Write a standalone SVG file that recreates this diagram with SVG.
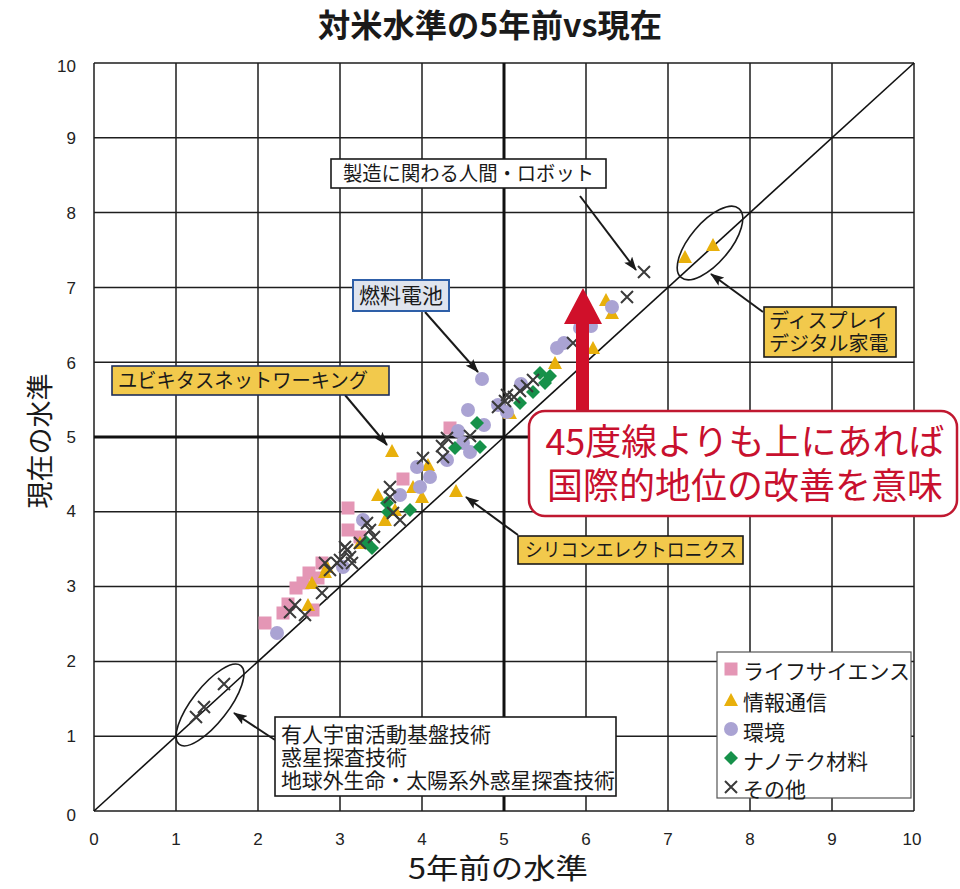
<svg xmlns="http://www.w3.org/2000/svg" xmlns:xlink="http://www.w3.org/1999/xlink" width="960" height="889" viewBox="0 0 960 889">
<style>
.grid{stroke:#1e1e1e;stroke-width:1.5;fill:none}
.thick{stroke:#111;stroke-width:3;fill:none}
.tick{font-family:"Liberation Sans",Arial,sans-serif;font-size:17px;fill:#222}
.jp{font-family:"Noto Sans CJK JP","Noto Sans CJK SC",sans-serif;fill:#1a1a1a}
.box{stroke:#1a1a1a;stroke-width:1.6}
.conn{stroke:#1a1a1a;stroke-width:2;fill:none;marker-end:url(#ah)}
.ell{stroke:#1a1a1a;stroke-width:1.6;fill:none}
</style>
<defs>
<marker id="ah" viewBox="0 0 14 10" refX="13" refY="5" markerWidth="14" markerHeight="10" markerUnits="userSpaceOnUse" orient="auto">
<path d="M0,0 L14,5 L0,10 L3,5 Z" fill="#1a1a1a"/>
</marker>
<rect id="sq" x="-6.5" y="-6.5" width="13" height="13" fill="#e496b5"/>
<path id="tri" d="M0,-7 L7,6 L-7,6 Z" fill="#e8b00c"/>
<circle id="ci" r="7" fill="#aaa3d3"/>
<path id="di" d="M0,-7 L7,0 L0,7 L-7,0 Z" fill="#16914a"/>
<path id="xx" d="M-6,-6 L6,6 M6,-6 L-6,6" stroke="#3a3a3a" stroke-width="2" fill="none"/>
</defs>
<rect width="960" height="889" fill="#ffffff"/>

<text x="490" y="37" class="jp" font-size="32" font-weight="bold" text-anchor="middle" textLength="344" lengthAdjust="spacingAndGlyphs">対米水準の5年前vs現在</text>

<g id="grid">
<path class="grid" d="M94,63 V811 M176,63 V811 M258,63 V811 M340,63 V811 M422,63 V811 M586,63 V811 M668,63 V811 M750,63 V811 M832,63 V811 M914,63 V811"/>
<path class="grid" d="M94,811 H914 M94,736.2 H914 M94,661.4 H914 M94,586.6 H914 M94,511.8 H914 M94,362.2 H914 M94,287.4 H914 M94,212.6 H914 M94,137.8 H914 M94,63 H914"/>
<path class="thick" d="M504,63 V811 M94,437 H914"/>
<line x1="94" y1="811" x2="914" y2="63" stroke="#111" stroke-width="1.6"/>
</g>

<g id="yticks" class="tick" text-anchor="end">
<text x="76" y="72">10</text><text x="76" y="144">9</text><text x="76" y="219">8</text><text x="76" y="294">7</text><text x="76" y="369">6</text><text x="76" y="443">5</text><text x="76" y="517">4</text><text x="76" y="592">3</text><text x="76" y="667">2</text><text x="76" y="742">1</text><text x="76" y="821">0</text>
</g>
<g id="xticks" class="tick" text-anchor="middle">
<text x="94" y="845">0</text><text x="176" y="845">1</text><text x="258" y="845">2</text><text x="340" y="845">3</text><text x="422" y="845">4</text><text x="504" y="845">5</text><text x="586" y="845">6</text><text x="668" y="845">7</text><text x="750" y="845">8</text><text x="832" y="845">9</text><text x="912" y="845">10</text>
</g>
<text class="jp" x="498" y="879" font-size="28" text-anchor="middle" textLength="180" lengthAdjust="spacingAndGlyphs">5年前の水準</text>
<text class="jp" font-size="27" text-anchor="middle" transform="translate(50,441) rotate(-90)">現在の水準</text>

<g id="scatter">
<g id="pts-life">
<use xlink:href="#sq" x="265" y="623"/><use xlink:href="#sq" x="283" y="613"/><use xlink:href="#sq" x="288" y="604"/><use xlink:href="#sq" x="296" y="588"/><use xlink:href="#sq" x="303" y="583"/><use xlink:href="#sq" x="309" y="573"/><use xlink:href="#sq" x="313" y="610"/><use xlink:href="#sq" x="322" y="563"/><use xlink:href="#sq" x="348" y="508"/><use xlink:href="#sq" x="348" y="530"/><use xlink:href="#sq" x="360" y="537"/><use xlink:href="#sq" x="403" y="479"/><use xlink:href="#sq" x="450" y="428"/><use xlink:href="#sq" x="318" y="578"/>
</g>
<g id="pts-info">
<use xlink:href="#tri" x="392" y="451"/><use xlink:href="#tri" x="378" y="495"/><use xlink:href="#tri" x="413" y="487"/><use xlink:href="#tri" x="422" y="497"/><use xlink:href="#tri" x="428" y="465"/><use xlink:href="#tri" x="456" y="491"/><use xlink:href="#tri" x="395" y="510"/><use xlink:href="#tri" x="327" y="567"/><use xlink:href="#tri" x="312" y="583"/><use xlink:href="#tri" x="308" y="605"/><use xlink:href="#tri" x="385" y="520"/><use xlink:href="#tri" x="360" y="543"/><use xlink:href="#tri" x="555" y="363"/><use xlink:href="#tri" x="510" y="413"/><use xlink:href="#tri" x="593" y="348"/><use xlink:href="#tri" x="606" y="300"/><use xlink:href="#tri" x="612" y="313"/><use xlink:href="#tri" x="685" y="257"/><use xlink:href="#tri" x="713" y="245"/><use xlink:href="#tri" x="325" y="572"/>
</g>
<g id="pts-env">
<use xlink:href="#ci" x="482" y="379"/><use xlink:href="#ci" x="468" y="410"/><use xlink:href="#ci" x="498" y="405"/><use xlink:href="#ci" x="484" y="425"/><use xlink:href="#ci" x="458" y="431"/><use xlink:href="#ci" x="463" y="443"/><use xlink:href="#ci" x="470" y="452"/><use xlink:href="#ci" x="447" y="460"/><use xlink:href="#ci" x="430" y="477"/><use xlink:href="#ci" x="417" y="467"/><use xlink:href="#ci" x="420" y="487"/><use xlink:href="#ci" x="400" y="495"/><use xlink:href="#ci" x="363" y="520"/><use xlink:href="#ci" x="277" y="633"/><use xlink:href="#ci" x="557" y="348"/><use xlink:href="#ci" x="564" y="343"/><use xlink:href="#ci" x="580" y="328"/><use xlink:href="#ci" x="591" y="326"/><use xlink:href="#ci" x="612" y="307"/><use xlink:href="#ci" x="507" y="412"/><use xlink:href="#ci" x="521" y="384"/><use xlink:href="#ci" x="343" y="567"/>
</g>
<g id="pts-nano">
<use xlink:href="#di" x="540" y="373"/><use xlink:href="#di" x="550" y="376"/><use xlink:href="#di" x="545" y="383"/><use xlink:href="#di" x="533" y="392"/><use xlink:href="#di" x="520" y="403"/><use xlink:href="#di" x="477" y="423"/><use xlink:href="#di" x="455" y="448"/><use xlink:href="#di" x="480" y="447"/><use xlink:href="#di" x="410" y="510"/><use xlink:href="#di" x="387" y="503"/><use xlink:href="#di" x="372" y="548"/><use xlink:href="#di" x="366" y="542"/><use xlink:href="#di" x="388" y="512"/>
</g>
<g id="pts-other">
<use xlink:href="#xx" x="447" y="438"/><use xlink:href="#xx" x="442" y="446"/><use xlink:href="#xx" x="443" y="457"/><use xlink:href="#xx" x="470" y="436"/><use xlink:href="#xx" x="507" y="395"/><use xlink:href="#xx" x="514" y="397"/><use xlink:href="#xx" x="520" y="391"/><use xlink:href="#xx" x="527" y="386"/><use xlink:href="#xx" x="533" y="380"/><use xlink:href="#xx" x="498" y="407"/><use xlink:href="#xx" x="390" y="487"/><use xlink:href="#xx" x="390" y="497"/><use xlink:href="#xx" x="393" y="513"/><use xlink:href="#xx" x="400" y="520"/><use xlink:href="#xx" x="367" y="523"/><use xlink:href="#xx" x="370" y="530"/><use xlink:href="#xx" x="374" y="537"/><use xlink:href="#xx" x="360" y="543"/><use xlink:href="#xx" x="345" y="547"/><use xlink:href="#xx" x="340" y="560"/><use xlink:href="#xx" x="350" y="557"/><use xlink:href="#xx" x="347" y="550"/><use xlink:href="#xx" x="337" y="563"/><use xlink:href="#xx" x="330" y="570"/><use xlink:href="#xx" x="325" y="563"/><use xlink:href="#xx" x="352" y="563"/><use xlink:href="#xx" x="322" y="593"/><use xlink:href="#xx" x="295" y="605"/><use xlink:href="#xx" x="305" y="615"/><use xlink:href="#xx" x="290" y="612"/><use xlink:href="#xx" x="644" y="272"/><use xlink:href="#xx" x="627" y="297"/><use xlink:href="#xx" x="573" y="343"/><use xlink:href="#xx" x="423" y="458"/><use xlink:href="#xx" x="505" y="401"/><use xlink:href="#xx" x="196" y="717"/><use xlink:href="#xx" x="204" y="707"/><use xlink:href="#xx" x="224" y="684"/>
</g>
</g>

<g id="ellipses">
<ellipse class="ell" cx="710" cy="243" rx="45" ry="20" transform="rotate(-50 710 243)"/>
<ellipse class="ell" cx="210" cy="705" rx="50" ry="18" transform="rotate(-52 210 705)"/>
</g>

<g id="connectors">
<line class="conn" x1="580" y1="196" x2="636" y2="270"/>
<line class="conn" x1="425" y1="312" x2="478" y2="372"/>
<line class="conn" x1="345" y1="395" x2="387" y2="445"/>
<line class="conn" x1="518" y1="535" x2="466" y2="497"/>
<line class="conn" x1="763" y1="312" x2="711" y2="274"/>
<line class="conn" x1="275" y1="740" x2="234" y2="713"/>
</g>

<g id="robot">
<rect class="box" x="331" y="159" width="275" height="29" fill="#ffffff"/>
<text class="jp" x="468.5" y="181" font-size="20" text-anchor="middle" textLength="251" lengthAdjust="spacingAndGlyphs">製造に関わる人間・ロボット</text>
</g>
<g id="fuelcell">
<rect x="353" y="280" width="96" height="31" fill="#dfe4ee" stroke="#2e5fa8" stroke-width="2"/>
<text class="jp" x="401" y="303" font-size="21" text-anchor="middle">燃料電池</text>
</g>
<g id="ubiquitous">
<rect x="112" y="366" width="277" height="29" fill="#f2c94c" stroke="#1f2f5a" stroke-width="1.6"/>
<text class="jp" x="118" y="388" font-size="20" textLength="250" lengthAdjust="spacingAndGlyphs">ユビキタスネットワーキング</text>
</g>
<g id="silicon">
<rect class="box" x="518" y="536" width="225" height="28" fill="#f2c94c"/>
<text class="jp" x="525" y="557" font-size="19" textLength="212" lengthAdjust="spacingAndGlyphs">シリコンエレクトロニクス</text>
</g>
<g id="display">
<rect class="box" x="764" y="307" width="132" height="50" fill="#f2c94c"/>
<text class="jp" font-size="20"><tspan x="769" y="328">ディスプレイ</tspan><tspan x="769" y="351">デジタル家電</tspan></text>
</g>
<g id="space">
<rect class="box" x="275" y="717" width="341" height="79" fill="#ffffff"/>
<text class="jp" font-size="21"><tspan x="281" y="742">有人宇宙活動基盤技術</tspan><tspan x="281" y="765">惑星探査技術</tspan><tspan x="281" y="788" textLength="334" lengthAdjust="spacingAndGlyphs">地球外生命・太陽系外惑星探査技術</tspan></text>
</g>

<g id="redarrow">
<polygon points="583,288 602,324 589,324 589,412 576,412 576,324 564,324" fill="#d0102a"/>
</g>
<g id="note">
<rect x="529" y="411" width="428" height="105" rx="16" ry="16" fill="#ffffff" stroke="#c01830" stroke-width="2.5"/>
<text font-family="Noto Sans CJK JP,sans-serif" font-size="36" fill="#c8102e" text-anchor="middle"><tspan x="745" y="455">45度線よりも上にあれば</tspan><tspan x="745" y="499">国際的地位の改善を意味</tspan></text>
</g>

<g id="legend">
<rect x="717" y="652" width="194" height="146" fill="#ffffff" stroke="#555" stroke-width="1.2"/>
<use xlink:href="#sq" x="731" y="669"/>
<use xlink:href="#tri" x="731" y="700"/>
<use xlink:href="#ci" x="731" y="729"/>
<use xlink:href="#di" x="731" y="758"/>
<use xlink:href="#xx" x="731" y="787"/>
<g class="jp" font-size="21">
<text x="743" y="679" textLength="167" lengthAdjust="spacingAndGlyphs">ライフサイエンス</text>
<text x="743" y="710">情報通信</text>
<text x="743" y="740">環境</text>
<text x="743" y="769">ナノテク材料</text>
<text x="743" y="797">その他</text>
</g>
</g>
</svg>
